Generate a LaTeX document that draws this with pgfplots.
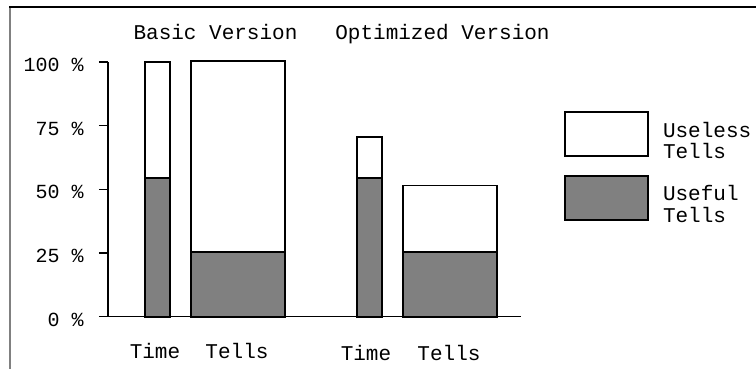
\documentclass[border=0pt]{standalone}
\usepackage{pgfplots}
\pgfplotsset{compat=1.18}
\usepackage{fontspec}
\setmainfont{Liberation Mono}
\definecolor{usefulgray}{RGB}{128,128,128}
\pgfplotsset{boxlegend/.style={legend image code/.code={\draw[##1] (0pt,-8.5pt) rectangle (41.5pt,13.5pt);}}}
\begin{document}
\fontsize{10.5}{11}\selectfont
\begin{tikzpicture}
\useasboundingbox (0,0) rectangle (378pt,-184.5pt);
\draw[usefulgray, line width=1pt] (4.75pt,-184.5pt) -- (4.75pt,-3.5pt);
\draw[black, line width=0.6pt] (4.5pt,-3.5pt) -- (378pt,-3.5pt);
\begin{axis}[
  at={(54pt,-158.35pt)}, anchor=south west,
  x=0.5pt, y=1.2735pt,
  xmin=0, xmax=413, ymin=0, ymax=100,
  clip=false,
  axis x line=bottom, axis y line=left,
  axis line style={-, line width=0.7pt},
  xtick={47,129}, xticklabels={Time,Tells},
  extra x ticks={258,341}, extra x tick labels={Time,Tells},
  xtick style={draw=none},
  extra x tick style={tick style={draw=none}, tick label style={yshift=-1pt}},
  xticklabel style={anchor=base, yshift=-16.5pt, font=\fontsize{10.5}{11}\selectfont},
  ytick={0,25,50,75,100},
  yticklabels={0 \%,25 \%,50 \%,75 \%,100 \%},
  tick align=outside, major tick length=4.5pt,
  ytick style={line width=0.7pt, black},
  yticklabel style={anchor=east, inner sep=0pt, xshift=-7.5pt, yshift=-1.5pt, font=\fontsize{10}{11}\selectfont},
  legend style={at={(axis cs:456,80.8)}, anchor=north west, draw=none, fill=none,
    inner sep=0pt, row sep=9pt, column sep=7pt,
    nodes={inner sep=0pt, font=\fontsize{10.5}{11}\selectfont}},
  legend cell align=left,
]
\addplot[ybar, bar width=25, bar shift=0pt, fill=white, draw=black, line width=0.8pt, forget plot]
  coordinates {(49.5,100) (261.5,70.5)};
\addplot[ybar, bar width=94, bar shift=0pt, fill=white, draw=black, line width=0.8pt, boxlegend]
  coordinates {(130,100.5) (342,51.5)};
\addlegendentry{\raisebox{2pt}{\begin{tabular}{@{}l@{}}Useless\\[-0.3pt]Tells\end{tabular}}}
\addplot[ybar, bar width=25, bar shift=0pt, fill=usefulgray, draw=black, line width=0.8pt, forget plot]
  coordinates {(49.5,54.5) (261.5,54.5)};
\addplot[ybar, bar width=94, bar shift=0pt, fill=usefulgray, draw=black, line width=0.8pt, boxlegend]
  coordinates {(130,25.5) (342,25.5)};
\addlegendentry{\raisebox{2pt}{\begin{tabular}{@{}l@{}}Useful\\[-0.3pt]Tells\end{tabular}}}
\node[anchor=base] at (axis cs:107.5,108.9) {Basic Version};
\node[anchor=base] at (axis cs:334.5,108.9) {Optimized Version};
\end{axis}
\end{tikzpicture}
\end{document}
